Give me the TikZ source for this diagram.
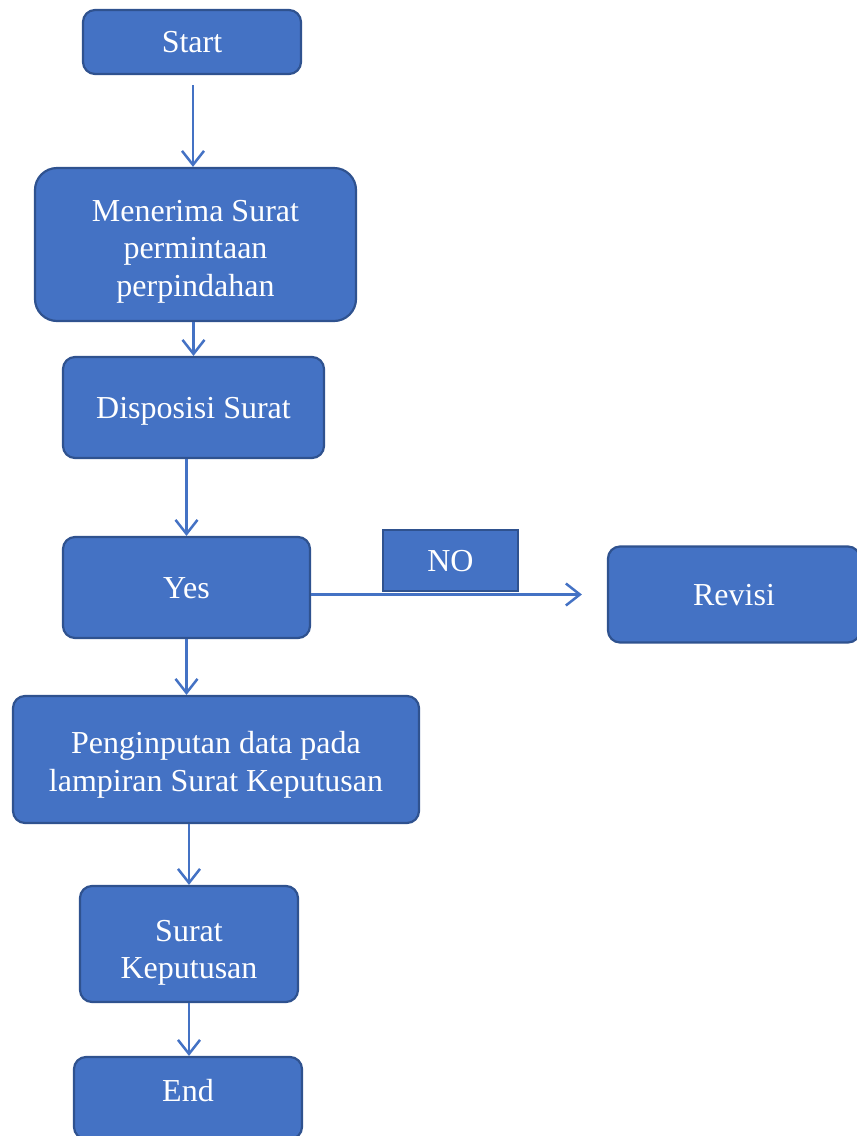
\documentclass[tikz,border=0pt]{standalone}
\usepackage{fontspec}
\setmainfont{Liberation Serif}
\usetikzlibrary{arrows.meta}
\definecolor{boxc}{HTML}{4472C4}
\definecolor{bordc}{HTML}{2F528F}
\tikzset{
  box/.style={draw=bordc, fill=boxc, line width=2.2pt, rounded corners=12pt, text=white,
    align=center, inner sep=0pt, font=\fontsize{32}{37.5}\selectfont,
    execute at begin node={\rule{0pt}{28pt}},
    execute at end node={\rule[-7pt]{0pt}{7pt}}},
  flat/.style={box, rounded corners=0pt},
  arr/.style={draw=boxc, line width=2.5pt, -{Straight Barb[length=14pt,width=22pt,line width=2.5pt]}}
}
\begin{document}
\begin{tikzpicture}[x=1pt,y=1pt]
\useasboundingbox (0,0) rectangle (857,-1136);
\clip (0,0) rectangle (857,-1136);
\node[box, minimum width=218pt, minimum height=64pt] (start) at (192,-42) {Start};
\node[box, rounded corners=22pt, minimum width=321pt, minimum height=153pt] (men) at (195.5,-244.5) {\rule{0pt}{35pt}Menerima Surat\\permintaan\\perpindahan};
\node[box, minimum width=261pt, minimum height=101pt] (disp) at (193.5,-407.5) {Disposisi Surat};
\node[box, minimum width=247pt, minimum height=101pt] (yes) at (186.5,-587.5) {Yes};
\node[flat, minimum width=135pt, minimum height=61pt] (no) at (450.5,-560.5) {NO};
\node[box, minimum width=252pt, minimum height=96pt] (rev) at (734,-594.5) {Revisi};
\node[box, minimum width=406pt, minimum height=127pt] (pen) at (216,-759.5) {\rule{0pt}{33pt}Penginputan data pada\\lampiran Surat Keputusan};
\node[box, minimum width=218pt, minimum height=116pt] (sk) at (189,-944) {\rule{0pt}{39pt}Surat\\Keputusan};
\node[box, minimum width=228pt, minimum height=82pt] (end) at (188,-1098) {End\rule[-21pt]{0pt}{21pt}};
\draw[arr] ([xshift=1pt,yshift=-10pt]start.south) -- ([xshift=1pt]start.south |- men.north);
\draw[arr] (disp.north |- men.south) -- (disp.north);
\draw[arr] (yes.north |- disp.south) -- (yes.north);
\draw[arr] (yes.east |- rev.west) -- ([xshift=-25pt]rev.west);
\draw[arr] (yes.south) -- (yes.south |- pen.north);
\draw[arr] (sk.north |- pen.south) -- (sk.north);
\draw[arr] (sk.south) -- (sk.south |- end.north);
\end{tikzpicture}
\end{document}
